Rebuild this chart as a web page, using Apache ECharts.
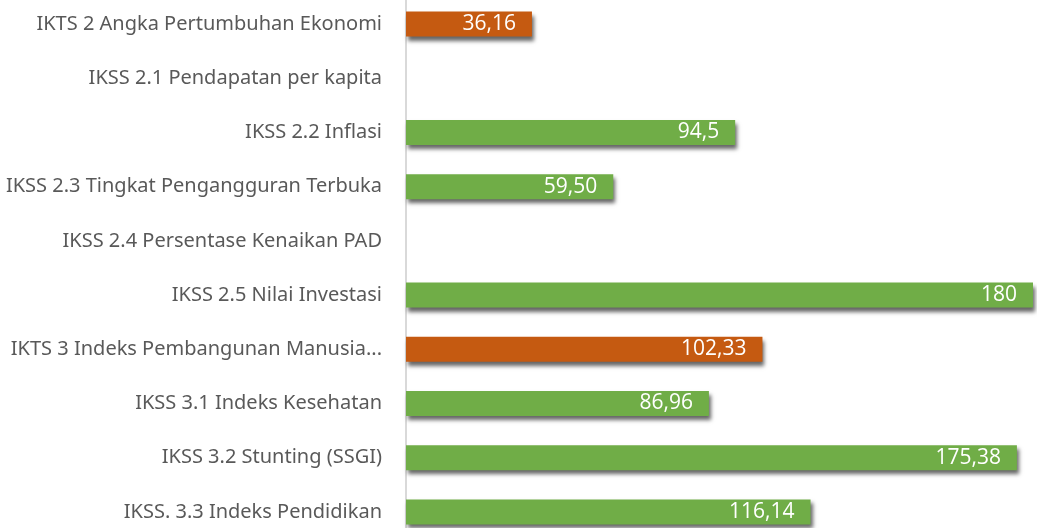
<!DOCTYPE html>
<html>
<head>
<meta charset="utf-8">
<title></title>
<style type="text/css">
  html, body { margin: 0; padding: 0; background: #fff; }
  #main { width: 1037px; height: 528px; }
</style>
</head>
<body>
<div id="main"></div>
<script src="https://cdn.jsdelivr.net/npm/echarts@6/dist/echarts.min.js"></script>
<script type="text/javascript">
// categories, top to bottom as in the picture
var categories = [
  'IKTS 2 Angka Pertumbuhan Ekonomi',
  'IKSS 2.1 Pendapatan per kapita',
  'IKSS 2.2 Inflasi',
  'IKSS 2.3 Tingkat Pengangguran Terbuka',
  'IKSS 2.4 Persentase Kenaikan PAD',
  'IKSS 2.5 Nilai Investasi',
  'IKTS 3 Indeks Pembangunan Manusia (IPM)',
  'IKSS 3.1 Indeks Kesehatan',
  'IKSS 3.2 Stunting (SSGI)',
  'IKSS. 3.3 Indeks Pendidikan'
];
var values = [36.16, null, 94.5, 59.5, null, 180, 102.33, 86.96, 175.38, 116.14];
var valueLabels = ['36,16', '', '94,5', '59,50', '', '180', '102,33', '86,96', '175,38', '116,14'];
var isTarget = [true, false, false, false, false, false, true, false, false, false];

var orange = '#C55A11';
var green = '#70AD47';

var barData = [];
for (var i = 0; i < values.length; i++) {
  barData.push({
    value: values[i],
    itemStyle: { color: isTarget[i] ? orange : green }
  });
}

var chart = echarts.init(document.getElementById('main'));
var option = {
  animation: false,
  grid: { left: 406, right: 4, top: -3, height: 542, containLabel: false, outerBoundsMode: 'none' },
  xAxis: {
    type: 'value',
    min: 0,
    max: 180,
    show: false
  },
  yAxis: {
    type: 'category',
    inverse: true,
    data: categories,
    axisLine: { show: true, lineStyle: { color: '#d9d9d9', width: 2 } },
    axisTick: { show: false },
    axisLabel: {
      color: '#595959',
      fontFamily: 'Noto Sans',
      fontSize: 20,
      margin: 24,
      formatter: function (v) {
        return v.length > 37 ? v.slice(0, 33) + '...' : v;
      }
    }
  },
  series: [{
    type: 'bar',
    data: barData,
    barWidth: 25,
    itemStyle: {
      shadowColor: 'rgba(0,0,0,0.6)',
      shadowBlur: 4,
      shadowOffsetX: 2,
      shadowOffsetY: 4
    },
    label: {
      show: true,
      position: 'insideRight',
      distance: 16,
      color: '#fff',
      fontFamily: 'Open Sans',
      fontSize: 21,
      formatter: function (p) { return valueLabels[p.dataIndex]; }
    }
  }]
};
chart.setOption(option);
</script>
</body>
</html>
